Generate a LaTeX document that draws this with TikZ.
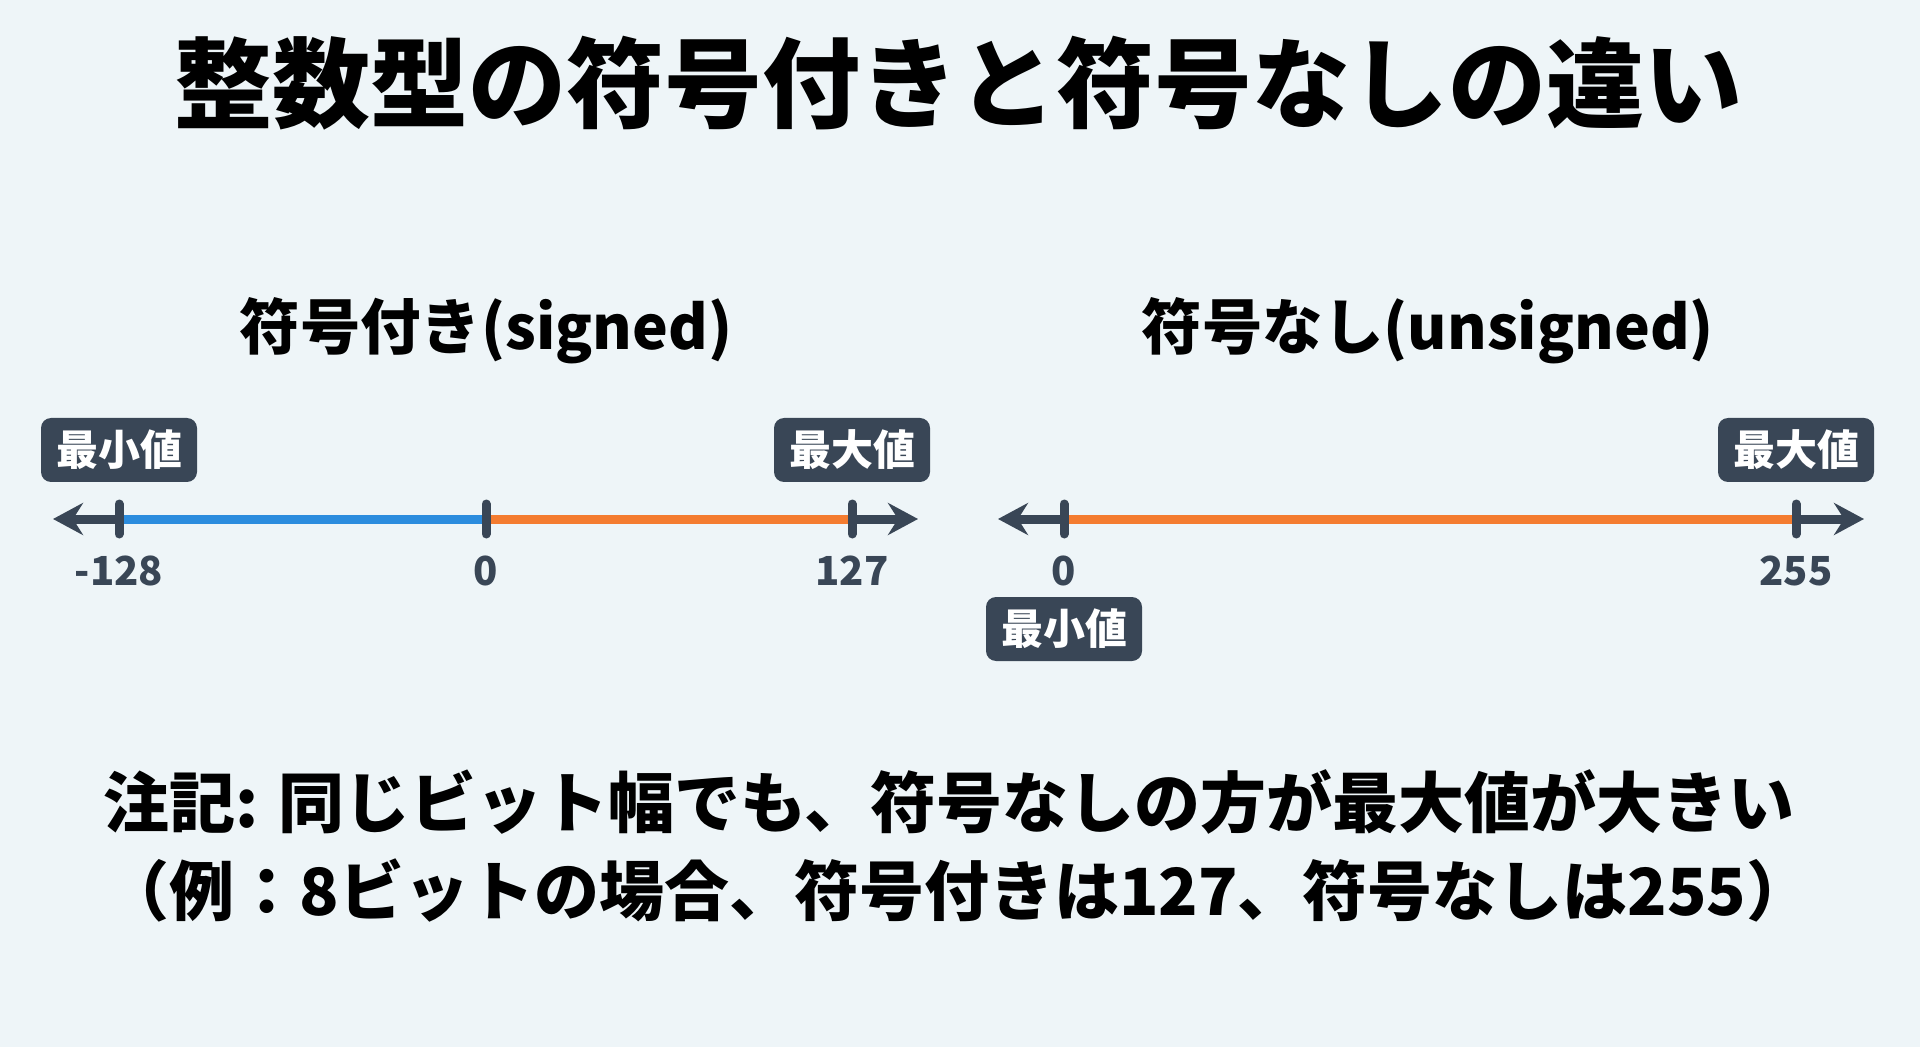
\documentclass[tikz,border=0pt]{standalone}
\usepackage{fontspec}
\setmainfont{Noto Sans CJK JP}
\usepackage{tikz}
\usetikzlibrary{arrows.meta,positioning}

\definecolor{bgcol}{HTML}{EEF5F8}
\definecolor{slate}{HTML}{394656}
\definecolor{lineblue}{HTML}{2B8CDE}
\definecolor{lineorange}{HTML}{F47C30}

\tikzset{
  tickmark/.style={draw=slate,line width=4.5pt,line cap=round},
  axisarrow/.style={draw=slate,line width=4.5pt,-{Stealth[length=15pt,width=16pt,inset=5pt]}},
  rangeline/.style={line width=4.5pt},
  badge/.style={fill=slate,text=white,rounded corners=5pt,inner sep=0pt,
    minimum width=78pt,minimum height=32pt,font=\bfseries\fontsize{21}{25}\selectfont},
  numlabel/.style={text=slate,inner sep=0pt,font=\bfseries\fontsize{20}{24}\selectfont},
  heading/.style={inner sep=0pt,font=\bfseries\fontsize{30.2}{36}\selectfont}
}

\begin{document}
\begin{tikzpicture}[x=0.5pt,y=-0.5pt]
    \fill[bgcol] (0,0) rectangle (1920,1047);
    \useasboundingbox (0,0) rectangle (1920,1047);

    \node [inner sep=0pt,font=\bfseries\fontsize{49}{56}\selectfont] (title) at (958,83) {整数型の符号付きと符号なしの違い};

    \node [heading] (h1) at (486,331) {符号付き(signed)};
    \node [heading] (h2) at (1428,331) {符号なし(unsigned)};

    \coordinate (a1) at (53,519);
    \coordinate (s1) at (119,519);
    \coordinate (s2) at (486,519);
    \coordinate (s3) at (852,519);
    \coordinate (a2) at (918,519);

    \coordinate (b1) at (998,519);
    \coordinate (u1) at (1064,519);
    \coordinate (u2) at (1796,519);
    \coordinate (b2) at (1864,519);

    \draw [rangeline,lineblue] (s1) -- (s2);
    \draw [rangeline,lineorange] (s2) -- (s3);
    \draw [rangeline,lineorange] (u1) -- (u2);

    \draw [axisarrow] (s1) -- (a1);
    \draw [axisarrow] (s3) -- (a2);
    \draw [axisarrow] (u1) -- (b1);
    \draw [axisarrow] (u2) -- (b2);

    \foreach \t in {s1,s2,s3,u1,u2}
      \draw [tickmark] ([yshift=7.5pt]\t) -- ([yshift=-7.5pt]\t);

    \node [numlabel] (n1) at ([yshift=-26pt]s1) {-128};
    \node [numlabel] (n2) at ([yshift=-26pt]s2) {0};
    \node [numlabel] (n3) at ([yshift=-26pt]s3) {127};
    \node [numlabel] (n4) at ([yshift=-26pt]u1) {0};
    \node [numlabel] (n5) at ([yshift=-26pt]u2) {255};

    \node [badge] (min1) at ([yshift=34.5pt]s1) {最小値};
    \node [badge] (max1) at ([yshift=34.5pt]s3) {最大値};
    \node [badge] (min2) at ([yshift=-55pt]u1) {最小値};
    \node [badge] (max2) at ([yshift=34.5pt]u2) {最大値};

    \node [inner sep=0pt,font=\bfseries\fontsize{33}{40}\selectfont] (note1) at (949,802) {注記: 同じビット幅でも、符号なしの方が最大値が大きい};
    \node [inner sep=0pt,font=\bfseries\fontsize{32.5}{40}\selectfont] (note2) at (958,891) {（例：8ビットの場合、符号付きは127、符号なしは255）};
  \end{tikzpicture}
\end{document}
